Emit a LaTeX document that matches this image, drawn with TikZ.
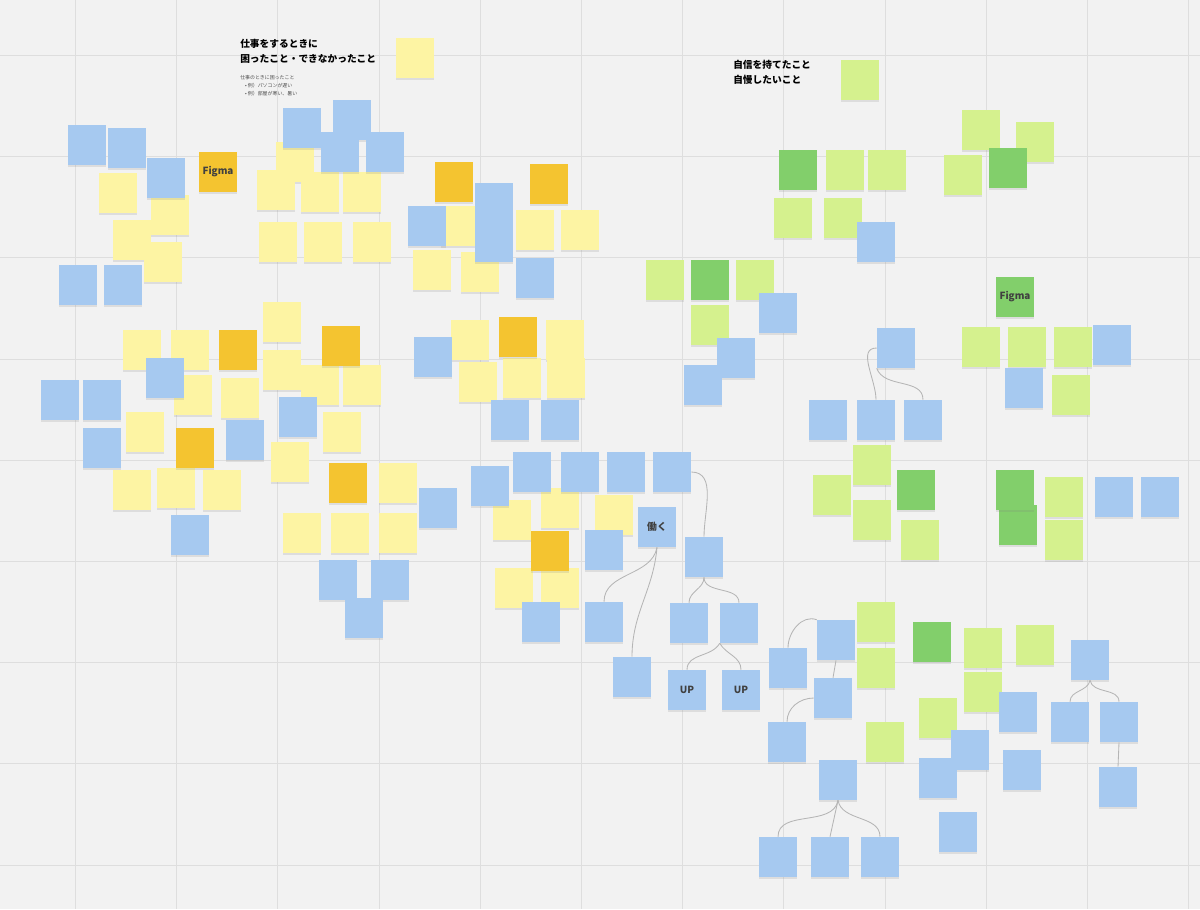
\documentclass[tikz,border=0pt]{standalone}
\usepackage{fontspec}
\newfontfamily\jp{Noto Sans CJK JP}
\usetikzlibrary{shadows}

\definecolor{boardbg}{HTML}{F2F2F2}
\definecolor{gridcol}{HTML}{DEDEDE}
\definecolor{yellowlt}{HTML}{FDF4A3}
\definecolor{yellowdk}{HTML}{F4C430}
\definecolor{bluenote}{HTML}{A6C9F0}
\definecolor{greenlt}{HTML}{D5F18E}
\definecolor{greendk}{HTML}{82CF6B}
\definecolor{linkcol}{HTML}{B5B5B5}

\tikzset{
  note/.style={minimum width=.95cm, minimum height=1cm, inner sep=0pt,
    drop shadow={shadow xshift=0pt, shadow yshift=-1.3pt, opacity=.18},
    font=\jp\bfseries\fontsize{7}{8}\selectfont, text=black!75},
  ynote/.style={note, fill=yellowlt},
  dynote/.style={note, fill=yellowdk},
  bnote/.style={note, fill=bluenote},
  gnote/.style={note, fill=greenlt},
  dgnote/.style={note, fill=greendk},
  link/.style={draw=linkcol, line width=.6pt},
  heading/.style={anchor=north west, align=left, inner sep=0pt,
    font=\jp\bfseries\fontsize{6.9}{10.3}\selectfont},
  smalltext/.style={anchor=north west, align=left, inner sep=0pt,
    font=\jp\fontsize{3.5}{5.7}\selectfont, text=black!70}
}

\begin{document}
\begin{tikzpicture}[x=0.025cm, y=-0.025cm]
% board
\fill[boardbg] (0,0) rectangle (1200,909);
\useasboundingbox (0,0) rectangle (1200,909);
\foreach \gx in {75,176,277,379,480,581,682,783,885,986,1087,1188}
  \draw[gridcol, line width=.5pt] (\gx,0) -- (\gx,909);
\foreach \gy in {55,156,257,359,460,561,662,763,865}
  \draw[gridcol, line width=.5pt] (0,\gy) -- (1200,\gy);

% headings
\node[heading] (head1) at (240,39) {仕事をするときに\\困ったこと・できなかったこと};
\node[smalltext] (sub1) at (240,75) {仕事のときに困ったこと\\
  \quad• 例）パソコンが遅い\\ \quad• 例）部屋が寒い、暑い};
\node[ynote] (key1) at (415,58) {};
\node[heading] (head2) at (733,60) {自信を持てたこと\\自慢したいこと};
\node[gnote] (key2) at (860,80) {};

% light yellow
\foreach \px/\py [count=\i] in {118/193,170/215,132/240,163/262,295/162,276/190,320/192,362/192,
  278/242,323/242,372/242,460/226,535/230,580/230,432/270,480/272,282/322,142/350,190/350,
  282/370,193/395,240/398,320/385,362/385,342/432,145/432,290/462,132/490,176/488,222/490,
  398/483,302/533,350/533,398/533,470/340,565/340,478/382,522/378,566/378,512/520,560/508,
  614/515,514/588,560/588}
  \node[ynote] (y\i) at (\px,\py) {};

% dark yellow
\node[dynote] (figmaA) at (218,172) {Figma};
\foreach \px/\py [count=\i] in {454/182,549/184,238/350,341/346,195/448,348/483,518/337,550/551}
  \node[dynote] (dy\i) at (\px,\py) {};

% blue, left half
\foreach \px/\py [count=\i] in {87/145,127/148,166/178,78/285,123/285,302/128,352/120,340/152,
  385/152,494/203,427/226,494/242,535/278,165/378,60/400,102/400,102/448,298/417,245/440,
  190/535,438/508,338/580,390/580,364/618,433/357,510/420,560/420,490/486,532/472,580/472,
  626/472,604/550,541/622}
  \node[bnote] (b\i) at (\px,\py) {};

% work tree
\node[bnote] (top) at (672,472) {};
\node[bnote] (work) at (657,527) {働く};
\node[bnote] (mid) at (704,557) {};
\node[bnote] (leftA) at (604,622) {};
\node[bnote] (leftB) at (632,677) {};
\node[bnote] (midA) at (689,623) {};
\node[bnote] (midB) at (739,623) {};
\node[bnote] (upA) at (687,690) {UP};
\node[bnote] (upB) at (741,690) {UP};

% greens
\foreach \px/\py [count=\i] in {845/170,887/170,793/218,843/218,981/130,1035/142,963/175,
  665/280,755/280,710/325,981/347,1027/347,1073/347,1071/395,872/465,832/495,872/520,
  920/540,1064/497,1064/540,876/622,983/648,1035/645,876/668,983/692,938/718,885/742}
  \node[gnote] (g\i) at (\px,\py) {};
\node[dgnote] (dg1) at (798,170) {};
\node[dgnote] (dg2) at (1008,168) {};
\node[dgnote] (dg3) at (710,280) {};
\node[dgnote] (figmaB) at (1015,297) {Figma};
\node[dgnote] (dg4) at (916,490) {};
\node[dgnote] (dg5) at (1018,525) {};
\node[dgnote] (dg6) at (1015,490) {};
\node[dgnote] (dg7) at (932,642) {};

% blue, right half
\foreach \px/\py [count=\i] in {876/242,778/313,736/358,703/385,1112/345,1024/388,828/420,
  1114/497,1160/497,1018/712,970/750,938/778,1022/770,958/832}
  \node[bnote] (rb\i) at (\px,\py) {};
\node[bnote] (t1) at (896,348) {};
\node[bnote] (t2) at (876,420) {};
\node[bnote] (t3) at (923,420) {};
\node[bnote] (s1) at (836,640) {};
\node[bnote] (s2) at (788,668) {};
\node[bnote] (s3) at (833,698) {};
\node[bnote] (s4) at (787,742) {};
\node[bnote] (s5) at (838,780) {};
\node[bnote] (s6) at (778,857) {};
\node[bnote] (s7) at (830,857) {};
\node[bnote] (s8) at (880,857) {};
\node[bnote] (r1) at (1090,660) {};
\node[bnote] (r2) at (1070,722) {};
\node[bnote] (r3) at (1119,722) {};
\node[bnote] (r4) at (1118,787) {};

% connectors
\draw[link] (top.east) to[out=0,in=90] (mid.north);
\draw[link] (work.south) to[out=-100,in=90] (leftA.north);
\draw[link] (work.south) to[out=-95,in=90] (leftB.north);
\draw[link] (mid.south) to[out=-90,in=90] (midA.north);
\draw[link] (mid.south) to[out=-90,in=90] (midB.north);
\draw[link] (midB.south west) to[out=-120,in=90] (upA.north);
\draw[link] (midB.south west) to[out=-60,in=90] (upB.north);
\draw[link] (t1.west) to[out=180,in=90] (t2.north);
\draw[link] (t1.south west) to[out=-70,in=90] (t3.north);
\draw[link] (s1.north west) to[out=160,in=90] (s2.north);
\draw[link] (s1.south) -- (s3.north);
\draw[link] (s3.west) to[out=180,in=90] (s4.north);
\draw[link] (s5.south) to[out=-100,in=90] (s6.north);
\draw[link] (s5.south) -- (s7.north);
\draw[link] (s5.south) to[out=-80,in=90] (s8.north);
\draw[link] (r1.south) to[out=-100,in=90] (r2.north);
\draw[link] (r1.south) to[out=-80,in=90] (r3.north);
\draw[link] (r3.south) -- (r4.north);
\end{tikzpicture}
\end{document}
